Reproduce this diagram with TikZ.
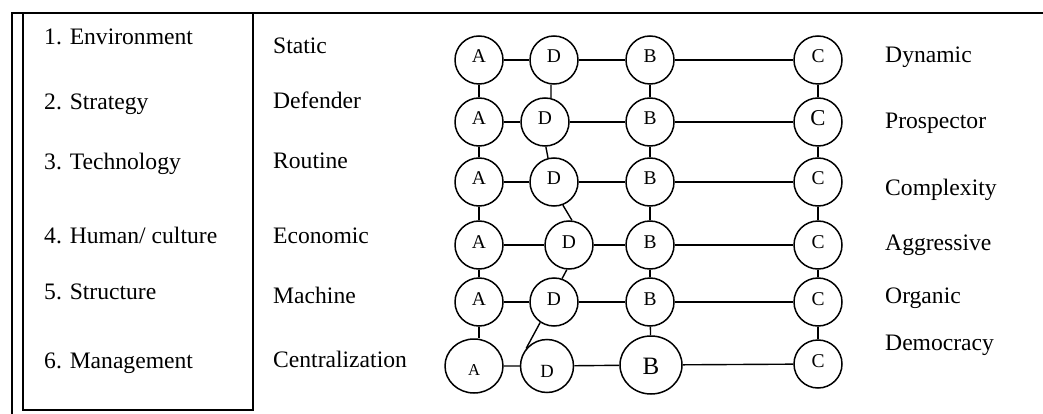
\documentclass[tikz,border=0pt]{standalone}
\usepackage{fontspec}
\setmainfont{Liberation Serif}
\usetikzlibrary{shapes.geometric}

\tikzset{
  frame/.style={line width=1.6pt},
  lbl/.style={anchor=base west, inner sep=0pt, font=\fontsize{23.6}{28}\selectfont},
  ring/.style={circle, draw, line width=1.5pt, inner sep=0pt, minimum size=48pt,
               font=\fontsize{19.5}{23}\selectfont, text height=12.9pt, text depth=6.9pt},
  link/.style={line width=1.4pt}
}

\begin{document}
\begin{tikzpicture}[x=1pt, y=-1pt]
\useasboundingbox (0,0) rectangle (1043,414);

% outer frame and the factor box
\draw[frame] (12,414) -- (12,13) -- (1043,13);
\draw[frame] (23,13) rectangle (253,410);

% factors
\node[lbl] (f1) at (44,45)  {1. Environment};
\node[lbl] (f2) at (44,110) {2. Strategy};
\node[lbl] (f3) at (44,170) {3. Technology};
\node[lbl] (f4) at (44,243) {4. Human/ culture};
\node[lbl] (f5) at (44,299) {5. Structure};
\node[lbl] (f6) at (44,368) {6. Management};

% left poles
\node[lbl] (l1) at (273,54)  {Static};
\node[lbl] (l2) at (273,109) {Defender};
\node[lbl] (l3) at (273,169) {Routine};
\node[lbl] (l4) at (273,243) {Economic};
\node[lbl] (l5) at (273,303) {Machine};
\node[lbl] (l6) at (273,367) {Centralization};

% right poles
\node[lbl] (r1) at (885,63)  {Dynamic};
\node[lbl] (r2) at (885,129) {Prospector};
\node[lbl] (r3) at (885,195) {Complexity};
\node[lbl] (r4) at (885,250) {Aggressive};
\node[lbl] (r5) at (885,303) {Organic};
\node[lbl] (r6) at (885,350) {Democracy};

% positions on each continuum
\node[ring] (A1) at (479,60) {A};
\node[ring] (D1) at (554,60) {D};
\node[ring] (B1) at (650,60) {B};
\node[ring] (C1) at (818,60) {C};

\node[ring] (A2) at (479,122) {A};
\node[ring] (D2) at (545,122) {D};
\node[ring] (B2) at (650,122) {B};
\node[ring, font=\fontsize{22.7}{26}\selectfont, text height=15pt, text depth=7pt] (C2) at (818,122) {C};

\node[ring] (A3) at (479,182) {A};
\node[ring] (D3) at (554,182) {D};
\node[ring] (B3) at (650,182) {B};
\node[ring] (C3) at (818,182) {C};

\node[ring] (A4) at (479,245) {A};
\node[ring] (D4) at (569,245) {D};
\node[ring] (B4) at (650,245) {B};
\node[ring] (C4) at (818,245) {C};

\node[ring] (A5) at (479,302) {A};
\node[ring] (D5) at (554,302) {D};
\node[ring] (B5) at (650,302) {B};
\node[ring] (C5) at (818,302) {C};

\node[ring, ellipse, minimum width=58pt, minimum height=54pt,
      font=\fontsize{16.6}{20}\selectfont, text height=18pt, text depth=0pt] (A6) at (474,366) {A};
\node[ring, minimum size=53pt, font=\fontsize{18.6}{22}\selectfont,
      text height=22pt, text depth=0pt] (D6) at (547,366) {D};
\node[ring, ellipse, minimum width=62pt, minimum height=58pt,
      font=\fontsize{25}{29}\selectfont, text height=18pt, text depth=0pt] (B6) at (651,365) {B};
\node[ring] (C6) at (818,364) {C};

% rows
\foreach \r in {1,...,6}{
  \draw[link] (A\r) -- (D\r) (D\r) -- (B\r) (B\r) -- (C\r);
}

% columns A, B, C
\foreach \r/\s in {1/2,2/3,3/4,4/5}{
  \draw[link] (A\r) -- (A\s);
  \draw[link] (B\r) -- (B\s);
  \draw[link] (C\r) -- (C\s);
}
\draw[link] (A5.south) -- (A5.south |- A6.north);
\draw[link] (B5) -- (B6);
\draw[link] (C5) -- (C6);

% column D zig-zag
\draw[link] (D1.-97)  -- (D2.76);
\draw[link] (D2.-88)  -- (D3.104);
\draw[link] (D3.-69)  -- (D4.83);
\draw[link] (D4.-95)  -- (D5.71);
\draw[link] (D5.-124) -- (D6.140);
\end{tikzpicture}
\end{document}
